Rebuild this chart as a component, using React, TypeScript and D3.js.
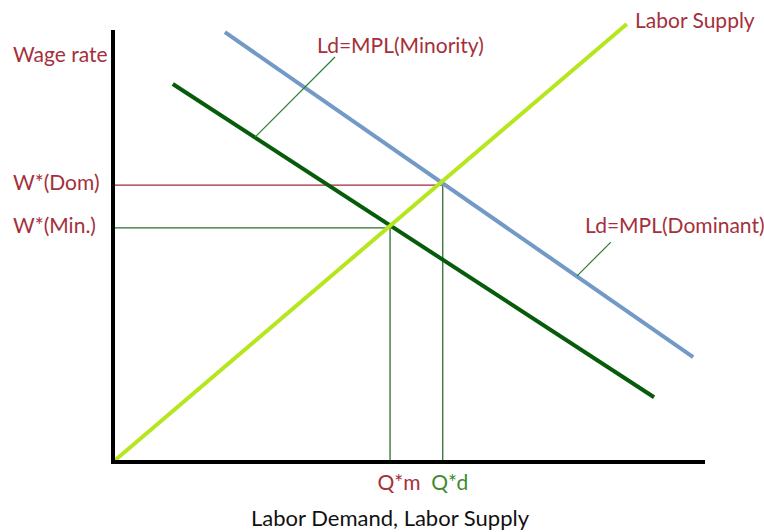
import * as d3 from "d3";
import React from "react";

// curve end points, in chart units (0..100 on both axes)
const laborSupply: [number, number][] = [[0, 0], [86.8, 101.4]];
const demandDominant: [number, number][] = [[18.9, 99.5], [98.0, 24.3]];
const demandMinority: [number, number][] = [[10.1, 87.5], [91.4, 15.0]];

// equilibrium wages / quantities
const wageDom = 64.1;
const wageMin = 54.2;
const qDom = 55.7;
const qMin = 46.8;

// leader lines for the labels
const leaderMinority: [number, number][] = [[24.0, 75.2], [37.5, 93.75]];
const leaderDominant: [number, number][] = [[78.4, 43.1], [84.1, 50.9]];

const labelColor = "#a4303c";
const font = "Lato, 'Open Sans', sans-serif";

export default function App() {
  const width = 764;
  const height = 532;
  const margin = { top: 30, right: 59, bottom: 70, left: 113 };

  const x = d3.scaleLinear().domain([0, 100]).range([margin.left, width - margin.right]);
  const y = d3.scaleLinear().domain([0, 100]).range([height - margin.bottom, margin.top]);

  const line = d3.line<[number, number]>()
    .x(d => x(d[0]))
    .y(d => y(d[1]));

  return (
    <svg width={width} height={height} style={{ position: "absolute", left: 0, top: 0, background: "#fff" }}>
      {/* guide lines */}
      <line x1={x(0)} x2={x(qDom)} y1={y(wageDom)} y2={y(wageDom)} stroke="#a0283c" strokeWidth={1.3} />
      <line x1={x(qDom)} x2={x(qDom)} y1={y(wageDom)} y2={y(0)} stroke="#2e6e2e" strokeWidth={1.3} />
      <line x1={x(0)} x2={x(qMin)} y1={y(wageMin)} y2={y(wageMin)} stroke="#2e6e2e" strokeWidth={1.3} />
      <line x1={x(qMin)} x2={x(qMin)} y1={y(wageMin)} y2={y(0)} stroke="#2e6e2e" strokeWidth={1.3} />

      {/* demand and supply */}
      <path d={line(demandDominant) ?? ""} stroke="#7399c6" strokeWidth={4} fill="none" />
      <path d={line(demandMinority) ?? ""} stroke="#065c0a" strokeWidth={4} fill="none" />
      <path d={line(laborSupply) ?? ""} stroke="#b6e61d" strokeWidth={4} fill="none" />

      {/* leaders */}
      <path d={line(leaderMinority) ?? ""} stroke="#2e7d32" strokeWidth={1.2} fill="none" />
      <path d={line(leaderDominant) ?? ""} stroke="#2e7d32" strokeWidth={1.2} fill="none" />

      {/* axes */}
      <line x1={x(0)} x2={x(0)} y1={y(0) + 2} y2={margin.top} stroke="#000" strokeWidth={4} />
      <line x1={x(0) - 2} x2={width - margin.right} y1={y(0)} y2={y(0)} stroke="#000" strokeWidth={4} />

      <g fontFamily={font} fontSize={21} fill={labelColor}>
        <text x={13} y={62}>Wage rate</text>
        <text x={13} y={190}>W*(Dom)</text>
        <text x={13} y={233}>W*(Min.)</text>
        <text x={317} y={53}>Ld=MPL(Minority)</text>
        <text x={585} y={233}>Ld=MPL(Dominant)</text>
        <text x={635} y={28}>Labor Supply</text>
        <text x={x(qMin) + 9} y={490} textAnchor="middle">Q*m</text>
        <text x={x(qDom) + 7} y={490} textAnchor="middle" fill="#3f8a2a">Q*d</text>
      </g>
      <text x={390} y={526} textAnchor="middle" fontFamily={font} fontSize={22} fill="#111">
        Labor Demand, Labor Supply
      </text>
    </svg>
  );
}
